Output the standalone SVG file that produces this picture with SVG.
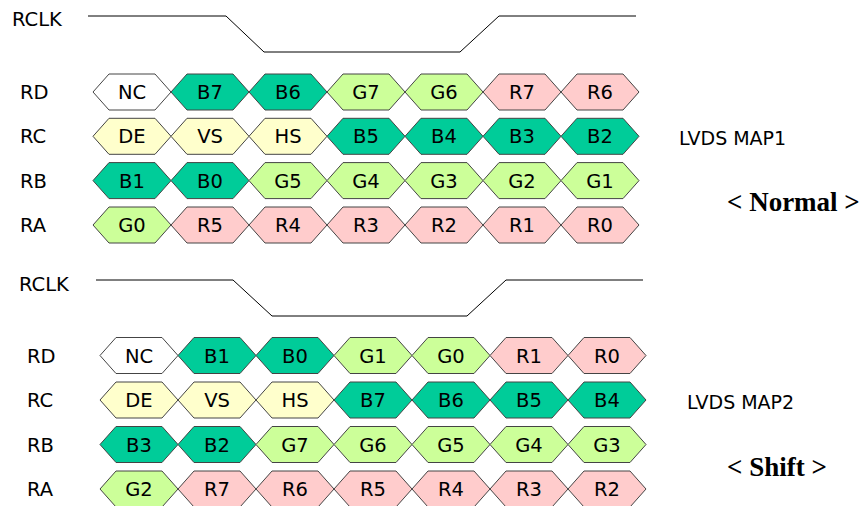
<svg xmlns="http://www.w3.org/2000/svg" xmlns:xlink="http://www.w3.org/1999/xlink" width="861" height="506" viewBox="0 0 861 506">
<style>
text{font-family:"DejaVu Sans","Liberation Sans",sans-serif;font-size:19.5px;fill:#000}
.c{text-anchor:middle;dominant-baseline:central}
.l{dominant-baseline:central}
.map{font-size:19px}
.title{font-family:"Liberation Serif","Times New Roman",serif;font-weight:bold;font-size:27px}
.w{fill:#ffffff}
.dg{fill:#00cc99}
.lg{fill:#ccff99}
.pk{fill:#ffcccc}
.ye{fill:#ffffcc}
.wave{fill:none;stroke:#000;stroke-width:1}
</style>
<defs>
<polygon id="hex" points="0,0 16,-18 62,-18 78,0 62,18 16,18" stroke="#444" stroke-width="1"/>
</defs>
<rect width="861" height="506" fill="#fff"/>
<g id="connectors">
<path class="wave" d="M88,16 H226 L264,52 H460 L499,16 H636"/>
<path class="wave" d="M96,280 H233 L272,316 H467 L506,280 H643"/>
</g>
<g id="labels">
<text x="12" y="19.5" class="l">RCLK</text>
<text x="20" y="92.5" class="l">RD</text>
<text x="20" y="136.8" class="l">RC</text>
<text x="20" y="181" class="l">RB</text>
<text x="20" y="225.5" class="l">RA</text>
<text x="679" y="138" class="l map">LVDS MAP1</text>
<text x="727" y="211" class="title">&lt; Normal &gt;</text>
<text x="19" y="284.5" class="l">RCLK</text>
<text x="27" y="356" class="l">RD</text>
<text x="27" y="400.5" class="l">RC</text>
<text x="27" y="445" class="l">RB</text>
<text x="27" y="489.5" class="l">RA</text>
<text x="687" y="401.5" class="l map">LVDS MAP2</text>
<text x="727" y="476" class="title">&lt; Shift &gt;</text>
</g>
<!-- MAP1 -->
<g id="m1-rd">
<g id="m1-rd-0"><use href="#hex" x="93" y="92" class="w"/><text x="132" y="92.5" class="c">NC</text></g>
<g id="m1-rd-1"><use href="#hex" x="171" y="92" class="dg"/><text x="210" y="92.5" class="c">B7</text></g>
<g id="m1-rd-2"><use href="#hex" x="249" y="92" class="dg"/><text x="288" y="92.5" class="c">B6</text></g>
<g id="m1-rd-3"><use href="#hex" x="327" y="92" class="lg"/><text x="366" y="92.5" class="c">G7</text></g>
<g id="m1-rd-4"><use href="#hex" x="405" y="92" class="lg"/><text x="444" y="92.5" class="c">G6</text></g>
<g id="m1-rd-5"><use href="#hex" x="483" y="92" class="pk"/><text x="522" y="92.5" class="c">R7</text></g>
<g id="m1-rd-6"><use href="#hex" x="561" y="92" class="pk"/><text x="600" y="92.5" class="c">R6</text></g>
</g>
<g id="m1-rc">
<g id="m1-rc-0"><use href="#hex" x="93" y="136.3" class="ye"/><text x="132" y="136.8" class="c">DE</text></g>
<g id="m1-rc-1"><use href="#hex" x="171" y="136.3" class="ye"/><text x="210" y="136.8" class="c">VS</text></g>
<g id="m1-rc-2"><use href="#hex" x="249" y="136.3" class="ye"/><text x="288" y="136.8" class="c">HS</text></g>
<g id="m1-rc-3"><use href="#hex" x="327" y="136.3" class="dg"/><text x="366" y="136.8" class="c">B5</text></g>
<g id="m1-rc-4"><use href="#hex" x="405" y="136.3" class="dg"/><text x="444" y="136.8" class="c">B4</text></g>
<g id="m1-rc-5"><use href="#hex" x="483" y="136.3" class="dg"/><text x="522" y="136.8" class="c">B3</text></g>
<g id="m1-rc-6"><use href="#hex" x="561" y="136.3" class="dg"/><text x="600" y="136.8" class="c">B2</text></g>
</g>
<g id="m1-rb">
<g id="m1-rb-0"><use href="#hex" x="93" y="180.6" class="dg"/><text x="132" y="181.1" class="c">B1</text></g>
<g id="m1-rb-1"><use href="#hex" x="171" y="180.6" class="dg"/><text x="210" y="181.1" class="c">B0</text></g>
<g id="m1-rb-2"><use href="#hex" x="249" y="180.6" class="lg"/><text x="288" y="181.1" class="c">G5</text></g>
<g id="m1-rb-3"><use href="#hex" x="327" y="180.6" class="lg"/><text x="366" y="181.1" class="c">G4</text></g>
<g id="m1-rb-4"><use href="#hex" x="405" y="180.6" class="lg"/><text x="444" y="181.1" class="c">G3</text></g>
<g id="m1-rb-5"><use href="#hex" x="483" y="180.6" class="lg"/><text x="522" y="181.1" class="c">G2</text></g>
<g id="m1-rb-6"><use href="#hex" x="561" y="180.6" class="lg"/><text x="600" y="181.1" class="c">G1</text></g>
</g>
<g id="m1-ra">
<g id="m1-ra-0"><use href="#hex" x="93" y="225" class="lg"/><text x="132" y="225.5" class="c">G0</text></g>
<g id="m1-ra-1"><use href="#hex" x="171" y="225" class="pk"/><text x="210" y="225.5" class="c">R5</text></g>
<g id="m1-ra-2"><use href="#hex" x="249" y="225" class="pk"/><text x="288" y="225.5" class="c">R4</text></g>
<g id="m1-ra-3"><use href="#hex" x="327" y="225" class="pk"/><text x="366" y="225.5" class="c">R3</text></g>
<g id="m1-ra-4"><use href="#hex" x="405" y="225" class="pk"/><text x="444" y="225.5" class="c">R2</text></g>
<g id="m1-ra-5"><use href="#hex" x="483" y="225" class="pk"/><text x="522" y="225.5" class="c">R1</text></g>
<g id="m1-ra-6"><use href="#hex" x="561" y="225" class="pk"/><text x="600" y="225.5" class="c">R0</text></g>
</g>
<!-- MAP2 -->
<g id="m2-rd">
<g id="m2-rd-0"><use href="#hex" x="100" y="355.5" class="w"/><text x="139" y="356" class="c">NC</text></g>
<g id="m2-rd-1"><use href="#hex" x="178" y="355.5" class="dg"/><text x="217" y="356" class="c">B1</text></g>
<g id="m2-rd-2"><use href="#hex" x="256" y="355.5" class="dg"/><text x="295" y="356" class="c">B0</text></g>
<g id="m2-rd-3"><use href="#hex" x="334" y="355.5" class="lg"/><text x="373" y="356" class="c">G1</text></g>
<g id="m2-rd-4"><use href="#hex" x="412" y="355.5" class="lg"/><text x="451" y="356" class="c">G0</text></g>
<g id="m2-rd-5"><use href="#hex" x="490" y="355.5" class="pk"/><text x="529" y="356" class="c">R1</text></g>
<g id="m2-rd-6"><use href="#hex" x="568" y="355.5" class="pk"/><text x="607" y="356" class="c">R0</text></g>
</g>
<g id="m2-rc">
<g id="m2-rc-0"><use href="#hex" x="100" y="400" class="ye"/><text x="139" y="400.5" class="c">DE</text></g>
<g id="m2-rc-1"><use href="#hex" x="178" y="400" class="ye"/><text x="217" y="400.5" class="c">VS</text></g>
<g id="m2-rc-2"><use href="#hex" x="256" y="400" class="ye"/><text x="295" y="400.5" class="c">HS</text></g>
<g id="m2-rc-3"><use href="#hex" x="334" y="400" class="dg"/><text x="373" y="400.5" class="c">B7</text></g>
<g id="m2-rc-4"><use href="#hex" x="412" y="400" class="dg"/><text x="451" y="400.5" class="c">B6</text></g>
<g id="m2-rc-5"><use href="#hex" x="490" y="400" class="dg"/><text x="529" y="400.5" class="c">B5</text></g>
<g id="m2-rc-6"><use href="#hex" x="568" y="400" class="dg"/><text x="607" y="400.5" class="c">B4</text></g>
</g>
<g id="m2-rb">
<g id="m2-rb-0"><use href="#hex" x="100" y="444.5" class="dg"/><text x="139" y="445" class="c">B3</text></g>
<g id="m2-rb-1"><use href="#hex" x="178" y="444.5" class="dg"/><text x="217" y="445" class="c">B2</text></g>
<g id="m2-rb-2"><use href="#hex" x="256" y="444.5" class="lg"/><text x="295" y="445" class="c">G7</text></g>
<g id="m2-rb-3"><use href="#hex" x="334" y="444.5" class="lg"/><text x="373" y="445" class="c">G6</text></g>
<g id="m2-rb-4"><use href="#hex" x="412" y="444.5" class="lg"/><text x="451" y="445" class="c">G5</text></g>
<g id="m2-rb-5"><use href="#hex" x="490" y="444.5" class="lg"/><text x="529" y="445" class="c">G4</text></g>
<g id="m2-rb-6"><use href="#hex" x="568" y="444.5" class="lg"/><text x="607" y="445" class="c">G3</text></g>
</g>
<g id="m2-ra">
<g id="m2-ra-0"><use href="#hex" x="100" y="489" class="lg"/><text x="139" y="489.5" class="c">G2</text></g>
<g id="m2-ra-1"><use href="#hex" x="178" y="489" class="pk"/><text x="217" y="489.5" class="c">R7</text></g>
<g id="m2-ra-2"><use href="#hex" x="256" y="489" class="pk"/><text x="295" y="489.5" class="c">R6</text></g>
<g id="m2-ra-3"><use href="#hex" x="334" y="489" class="pk"/><text x="373" y="489.5" class="c">R5</text></g>
<g id="m2-ra-4"><use href="#hex" x="412" y="489" class="pk"/><text x="451" y="489.5" class="c">R4</text></g>
<g id="m2-ra-5"><use href="#hex" x="490" y="489" class="pk"/><text x="529" y="489.5" class="c">R3</text></g>
<g id="m2-ra-6"><use href="#hex" x="568" y="489" class="pk"/><text x="607" y="489.5" class="c">R2</text></g>
</g>
</svg>
